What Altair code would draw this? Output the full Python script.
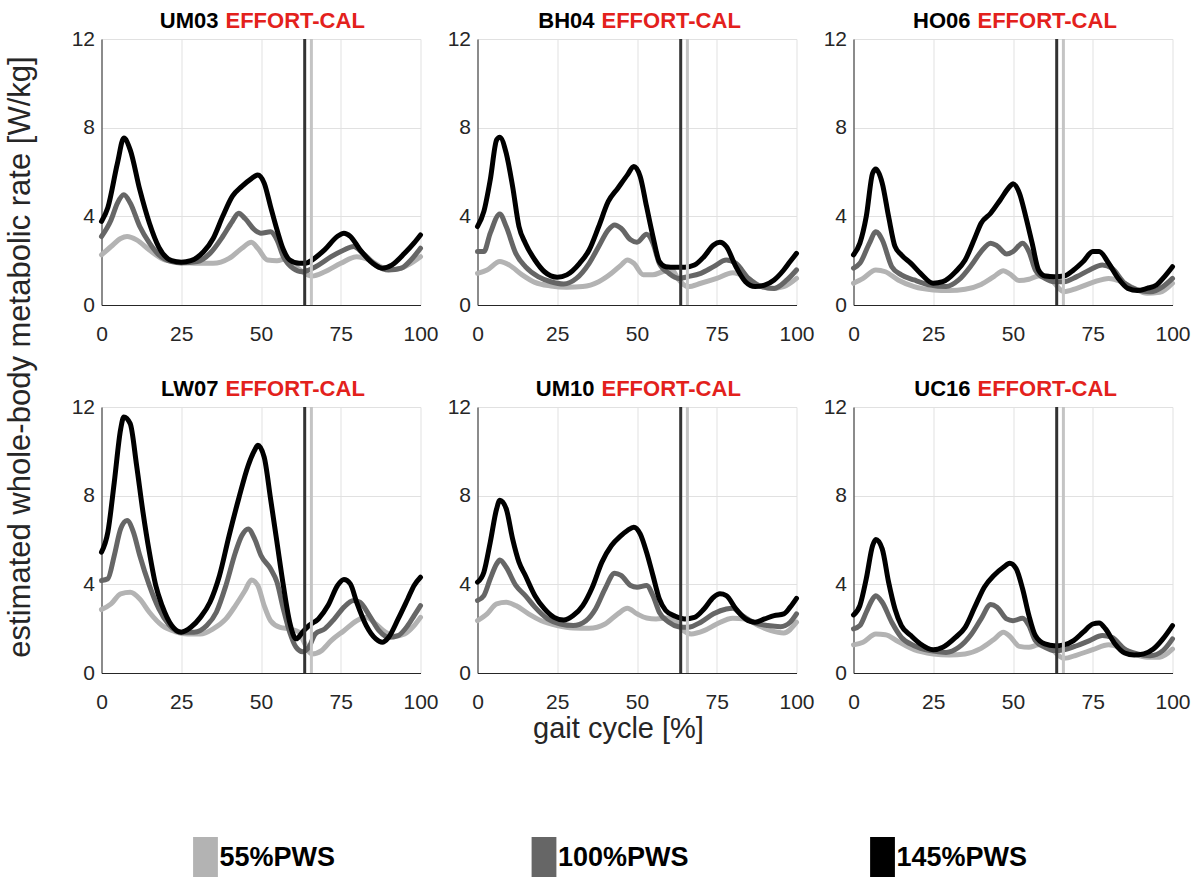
import altair as alt
import pandas as pd

SUBJECTS = ["UM03", "BH04", "HO06", "LW07", "UM10", "UC16"]
SPEEDS = ["55%PWS", "100%PWS", "145%PWS"]
COLORS = ["#b3b3b3", "#666666", "#000000"]
TAG = "EFFORT-CAL"
X_TICKS = [0, 25, 50, 75, 100]
Y_TICKS = [0, 4, 8, 12]
TOE_OFF = [65.8, 63.7]
TOE_OFF_COLORS = ["#c4c4c4", "#333333"]
X_TITLE = "gait cycle [%]"
Y_TITLE = "estimated whole-body metabolic rate [W/kg]"

# ---- UM03 ----
UM03_55_X = [0, 3, 6, 8, 11, 15, 20, 25, 30, 35, 40, 44, 47, 49, 52, 55, 58, 61, 63, 66, 70, 75, 80, 84, 88, 92, 96, 100]
UM03_55_Y = [2.26, 2.64, 3.0, 3.09, 2.94, 2.48, 2.03, 1.93, 1.88, 1.88, 2.1, 2.56, 2.83, 2.56, 2.03, 2.0, 2.1, 1.73, 1.5, 1.31, 1.5, 1.88, 2.18, 2.03, 1.7, 1.6, 1.8, 2.18]
UM03_100_X = [0, 3, 5, 7, 9, 12, 15, 18, 22, 25, 30, 34, 38, 41, 43, 45, 48, 50, 53, 55, 57, 60, 63, 65, 68, 72, 76, 79, 82, 86, 90, 94, 97, 100]
UM03_100_Y = [3.09, 3.84, 4.6, 4.97, 4.6, 3.54, 2.8, 2.26, 1.96, 1.9, 1.96, 2.33, 3.09, 3.77, 4.14, 3.9, 3.39, 3.24, 3.3, 2.94, 2.18, 1.66, 1.5, 1.58, 1.8, 2.18, 2.48, 2.64, 2.33, 1.8, 1.58, 1.66, 2.03, 2.56]
UM03_145_X = [0, 2, 5, 7, 9, 12, 15, 18, 22, 25, 28, 32, 35, 38, 41, 44, 47, 49, 51, 53, 55, 57, 59, 62, 64, 66, 70, 74, 76, 78, 81, 85, 88, 91, 95, 98, 100]
UM03_145_Y = [3.77, 4.4, 6.4, 7.53, 7.0, 5.2, 3.7, 2.6, 2.0, 1.93, 2.0, 2.4, 3.0, 4.0, 4.9, 5.35, 5.7, 5.87, 5.5, 4.44, 3.4, 2.5, 2.03, 1.88, 1.88, 2.03, 2.5, 3.1, 3.24, 3.1, 2.5, 1.88, 1.66, 1.8, 2.33, 2.8, 3.16]

# ---- BH04 ----
BH04_55_X = [0, 3, 7, 10, 14, 18, 23, 28, 33, 38, 42, 45, 47, 49, 52, 55, 58, 61, 63, 66, 70, 75, 80, 84, 88, 92, 96, 100]
BH04_55_Y = [1.43, 1.58, 1.96, 1.8, 1.36, 1.02, 0.86, 0.8, 0.83, 1.05, 1.43, 1.8, 2.03, 1.88, 1.36, 1.36, 1.5, 1.58, 1.16, 0.83, 0.98, 1.2, 1.46, 1.28, 0.9, 0.75, 0.83, 1.2]
BH04_100_X = [0, 2, 4, 7, 9, 12, 15, 19, 23, 27, 31, 35, 38, 41, 43, 45, 48, 50, 53, 55, 57, 60, 63, 66, 70, 74, 78, 81, 85, 89, 93, 97, 100]
BH04_100_Y = [2.41, 2.41, 3.24, 4.1, 3.54, 2.33, 1.73, 1.28, 1.05, 0.95, 1.2, 1.88, 2.64, 3.39, 3.61, 3.46, 2.94, 2.83, 3.19, 2.79, 1.88, 1.43, 1.2, 1.28, 1.43, 1.73, 2.03, 1.88, 1.2, 0.83, 0.75, 1.13, 1.58]
BH04_145_X = [0, 2, 4, 6, 7, 9, 11, 13, 15, 18, 21, 25, 28, 32, 35, 38, 41, 44, 47, 49, 51, 53, 55, 57, 59, 62, 65, 68, 71, 74, 76, 78, 81, 84, 87, 90, 93, 96, 98, 100]
BH04_145_Y = [3.54, 4.22, 5.65, 7.45, 7.57, 6.85, 5.35, 3.54, 2.79, 2.03, 1.5, 1.25, 1.36, 1.88, 2.48, 3.54, 4.67, 5.27, 5.87, 6.25, 5.8, 4.44, 3.09, 1.96, 1.73, 1.7, 1.7, 1.8, 2.18, 2.71, 2.83, 2.64, 1.73, 1.05, 0.83, 0.9, 1.13, 1.58, 1.96, 2.33]

# ---- HO06 ----
HO06_55_X = [0, 3, 7, 10, 14, 19, 25, 30, 35, 40, 44, 47, 49, 52, 55, 58, 61, 63, 66, 70, 75, 80, 84, 88, 92, 96, 100]
HO06_55_Y = [0.98, 1.2, 1.58, 1.5, 1.13, 0.83, 0.68, 0.65, 0.71, 0.93, 1.28, 1.55, 1.4, 1.1, 1.16, 1.31, 1.31, 0.98, 0.6, 0.75, 1.02, 1.2, 1.05, 0.75, 0.53, 0.57, 0.98]
HO06_100_X = [0, 2, 5, 7, 9, 12, 15, 19, 24, 29, 33, 37, 40, 43, 45, 48, 50, 53, 55, 57, 60, 63, 66, 70, 74, 78, 81, 85, 89, 93, 97, 100]
HO06_100_Y = [1.66, 1.88, 2.79, 3.31, 2.94, 1.73, 1.36, 1.13, 0.9, 0.83, 1.13, 1.8, 2.41, 2.79, 2.67, 2.3, 2.41, 2.79, 2.41, 1.58, 1.2, 1.05, 1.05, 1.28, 1.58, 1.8, 1.66, 0.98, 0.68, 0.6, 0.83, 1.2]
HO06_145_X = [0, 2, 4, 6, 7, 9, 11, 13, 15, 18, 21, 25, 28, 32, 35, 38, 40, 43, 46, 49, 50, 52, 54, 56, 58, 60, 63, 66, 69, 72, 75, 77, 80, 83, 86, 89, 92, 95, 97, 100]
HO06_145_Y = [2.26, 2.79, 3.99, 5.95, 6.13, 5.5, 3.99, 2.64, 2.26, 1.88, 1.43, 0.98, 1.05, 1.5, 2.03, 3.01, 3.69, 4.14, 4.74, 5.35, 5.47, 5.05, 3.99, 2.79, 1.58, 1.31, 1.28, 1.31, 1.58, 1.96, 2.41, 2.41, 1.88, 1.2, 0.75, 0.65, 0.75, 0.9, 1.2, 1.73]

# ---- LW07 ----
LW07_55_X = [0, 3, 6, 9, 12, 15, 19, 23, 27, 31, 35, 39, 42, 45, 47, 49, 51, 53, 56, 59, 62, 63, 66, 69, 72, 76, 80, 83, 86, 89, 92, 95, 98, 100]
LW07_55_Y = [2.86, 3.12, 3.57, 3.64, 3.34, 2.74, 2.14, 1.87, 1.76, 1.76, 1.99, 2.44, 3.04, 3.72, 4.2, 3.95, 3.04, 2.36, 2.06, 1.99, 1.84, 1.54, 0.86, 1.01, 1.46, 1.91, 2.36, 2.51, 2.21, 1.84, 1.66, 1.76, 2.14, 2.51]
LW07_100_X = [0, 2, 4, 6, 8, 10, 12, 15, 18, 21, 25, 29, 33, 36, 39, 42, 44, 46, 48, 50, 53, 55, 57, 59, 61, 63, 65, 67, 70, 73, 76, 79, 81, 84, 87, 90, 93, 96, 98, 100]
LW07_100_Y = [4.17, 4.25, 5.3, 6.5, 6.88, 6.36, 5.3, 3.95, 2.89, 2.21, 1.84, 1.84, 2.14, 2.74, 3.95, 5.45, 6.2, 6.5, 6.05, 5.3, 4.7, 4.1, 2.89, 1.84, 1.16, 0.96, 1.16, 1.76, 1.99, 2.44, 2.97, 3.27, 3.19, 2.59, 1.91, 1.61, 1.69, 2.14, 2.59, 3.04]
LW07_145_X = [0, 2, 4, 6, 7, 9, 11, 13, 15, 17, 19, 22, 25, 28, 31, 34, 37, 40, 43, 46, 48, 49, 51, 53, 55, 57, 59, 61, 63, 65, 68, 71, 74, 76, 78, 80, 83, 86, 88, 90, 93, 96, 98, 100]
LW07_145_Y = [5.45, 6.36, 8.6, 11.0, 11.55, 11.25, 9.37, 7.26, 5.45, 3.95, 3.04, 2.14, 1.84, 2.06, 2.51, 3.19, 4.4, 6.2, 7.86, 9.37, 10.05, 10.27, 9.74, 7.86, 5.9, 3.95, 2.29, 1.54, 1.84, 2.14, 2.44, 3.04, 3.95, 4.22, 4.02, 3.19, 2.14, 1.54, 1.39, 1.61, 2.44, 3.34, 3.95, 4.32]

# ---- UM10 ----
UM10_55_X = [0, 3, 6, 9, 12, 16, 20, 25, 30, 35, 40, 44, 47, 50, 53, 56, 59, 62, 64, 67, 71, 75, 80, 84, 88, 92, 96, 100]
UM10_55_Y = [2.36, 2.67, 3.12, 3.19, 3.04, 2.67, 2.36, 2.14, 2.03, 2.02, 2.21, 2.67, 2.92, 2.67, 2.48, 2.44, 2.48, 2.36, 1.99, 1.76, 1.91, 2.21, 2.47, 2.44, 2.14, 1.91, 1.81, 2.29]
UM10_100_X = [0, 2, 4, 6, 7, 9, 12, 15, 18, 22, 26, 30, 34, 37, 40, 43, 45, 48, 50, 53, 55, 57, 60, 63, 66, 70, 74, 78, 80, 83, 87, 91, 95, 98, 100]
UM10_100_Y = [3.27, 3.49, 4.25, 4.92, 5.1, 4.77, 3.95, 3.49, 2.97, 2.44, 2.21, 2.14, 2.36, 2.89, 3.8, 4.5, 4.4, 3.95, 3.87, 3.95, 3.49, 2.74, 2.29, 2.09, 2.06, 2.29, 2.67, 2.89, 2.92, 2.59, 2.26, 2.14, 2.09, 2.29, 2.67]
UM10_145_X = [0, 2, 4, 6, 7, 9, 11, 13, 15, 18, 21, 24, 27, 30, 33, 36, 39, 42, 45, 47, 49, 51, 53, 55, 57, 59, 62, 65, 68, 71, 74, 76, 78, 81, 84, 87, 90, 93, 96, 98, 100]
UM10_145_Y = [4.1, 4.55, 5.9, 7.41, 7.79, 7.41, 6.05, 5.0, 4.4, 3.49, 2.89, 2.51, 2.39, 2.59, 3.04, 3.87, 5.0, 5.75, 6.2, 6.43, 6.58, 6.28, 5.45, 4.4, 3.34, 2.82, 2.56, 2.44, 2.51, 2.89, 3.42, 3.57, 3.49, 2.89, 2.44, 2.29, 2.44, 2.59, 2.67, 2.97, 3.37]

# ---- UC16 ----
UC16_55_X = [0, 3, 7, 10, 14, 19, 25, 30, 35, 40, 44, 47, 49, 52, 55, 58, 61, 63, 66, 70, 75, 80, 84, 88, 92, 96, 100]
UC16_55_Y = [1.27, 1.39, 1.76, 1.73, 1.42, 1.05, 0.86, 0.81, 0.86, 1.11, 1.51, 1.84, 1.66, 1.2, 1.16, 1.27, 1.27, 0.96, 0.66, 0.81, 1.05, 1.27, 1.11, 0.86, 0.71, 0.71, 1.08]
UC16_100_X = [0, 2, 4, 6, 7, 9, 12, 15, 19, 24, 29, 33, 37, 40, 43, 45, 48, 50, 53, 55, 57, 60, 63, 66, 70, 74, 78, 81, 85, 89, 93, 97, 100]
UC16_100_Y = [1.99, 2.14, 2.74, 3.34, 3.49, 3.19, 2.29, 1.61, 1.23, 1.01, 0.93, 1.16, 1.76, 2.44, 3.09, 2.97, 2.44, 2.36, 2.47, 2.14, 1.46, 1.16, 1.01, 1.05, 1.23, 1.46, 1.69, 1.61, 1.08, 0.86, 0.78, 1.01, 1.54]
UC16_145_X = [0, 2, 4, 6, 7, 9, 11, 13, 15, 18, 21, 25, 28, 32, 35, 38, 41, 44, 47, 49, 51, 53, 55, 57, 60, 63, 66, 69, 72, 75, 77, 79, 82, 85, 88, 91, 94, 97, 100]
UC16_145_Y = [2.62, 3.04, 4.25, 5.75, 6.02, 5.6, 4.1, 2.89, 2.14, 1.69, 1.31, 1.05, 1.16, 1.61, 2.06, 2.97, 3.87, 4.4, 4.77, 4.95, 4.7, 3.8, 2.59, 1.69, 1.31, 1.23, 1.27, 1.46, 1.84, 2.21, 2.26, 1.99, 1.31, 0.9, 0.81, 0.86, 1.08, 1.54, 2.14]

SERIES = {
    "UM03": [(UM03_55_X, UM03_55_Y), (UM03_100_X, UM03_100_Y), (UM03_145_X, UM03_145_Y)],
    "BH04": [(BH04_55_X, BH04_55_Y), (BH04_100_X, BH04_100_Y), (BH04_145_X, BH04_145_Y)],
    "HO06": [(HO06_55_X, HO06_55_Y), (HO06_100_X, HO06_100_Y), (HO06_145_X, HO06_145_Y)],
    "LW07": [(LW07_55_X, LW07_55_Y), (LW07_100_X, LW07_100_Y), (LW07_145_X, LW07_145_Y)],
    "UM10": [(UM10_55_X, UM10_55_Y), (UM10_100_X, UM10_100_Y), (UM10_145_X, UM10_145_Y)],
    "UC16": [(UC16_55_X, UC16_55_Y), (UC16_100_X, UC16_100_Y), (UC16_145_X, UC16_145_Y)],
}

rows = []
for subj in SUBJECTS:
    for speed, (xs, ys) in zip(SPEEDS, SERIES[subj]):
        assert len(xs) == len(ys), (subj, speed, len(xs), len(ys))
        for xv, yv in zip(xs, ys):
            rows.append({"subject": subj, "speed": speed, "x": xv, "y": yv})
df = pd.DataFrame(rows)
rule_df = pd.DataFrame({"x": TOE_OFF, "c": TOE_OFF_COLORS})

W, H = 319, 266
FONT = "Liberation Sans"


def panel(subj, show_xtitle):
    if show_xtitle:
        xenc = alt.X("x:Q", title=X_TITLE,
                     scale=alt.Scale(domain=[0, 100], nice=False, zero=False),
                     axis=alt.Axis(values=X_TICKS, titleX=W / 2 - 19, titleAlign="center"))
    else:
        xenc = alt.X("x:Q", title=None,
                     scale=alt.Scale(domain=[0, 100], nice=False, zero=False),
                     axis=alt.Axis(values=X_TICKS))
    yenc = alt.Y("y:Q", title=None,
                 scale=alt.Scale(domain=[0, 12], nice=False),
                 axis=alt.Axis(values=Y_TICKS))
    d = df[df["subject"] == subj]
    layers = []
    for speed, col in zip(SPEEDS, COLORS):
        layers.append(
            alt.Chart(d[d["speed"] == speed])
            .mark_line(color=col, strokeWidth=5, interpolate="monotone", strokeCap="round", strokeJoin="round")
            .encode(x=xenc, y=yenc)
        )
    rules = alt.Chart(rule_df).mark_rule(strokeWidth=3).encode(
        x=xenc, color=alt.Color("c:N", scale=None)
    )
    t1 = alt.Chart(pd.DataFrame({"t": [subj]})).mark_text(
        align="right", baseline="middle", fontSize=22, fontWeight="bold", font=FONT, color="#000000"
    ).encode(text="t:N", x=alt.value(117), y=alt.value(-18))
    t2 = alt.Chart(pd.DataFrame({"t": [TAG]})).mark_text(
        align="left", baseline="middle", fontSize=22, fontWeight="bold", font=FONT, color="#e3211c"
    ).encode(text="t:N", x=alt.value(124), y=alt.value(-18))
    return alt.layer(*layers, rules, t1, t2).properties(width=W, height=H)


row1 = alt.hconcat(*[panel(s, False) for s in SUBJECTS[:3]], spacing=8)
row2 = alt.hconcat(panel(SUBJECTS[3], False), panel(SUBJECTS[4], True), panel(SUBJECTS[5], False), spacing=8)
grid = alt.vconcat(row1, row2, spacing=34)

ytitle = alt.Chart(pd.DataFrame({"t": [Y_TITLE]})).mark_text(
    angle=270, fontSize=31, font=FONT, color="#262626", baseline="middle"
).encode(text="t:N", x=alt.value(0), y=alt.value(318)).properties(width=1, height=640)

top = alt.hconcat(ytitle, grid, spacing=33.5)

leg_df = pd.DataFrame({"label": SPEEDS, "color": COLORS})
leg_base = alt.Chart(leg_df).encode(
    x=alt.X("label:N", sort=SPEEDS, scale=alt.Scale(type="point", padding=0.545), axis=None)
)
leg_rect = leg_base.mark_point(
    shape="M-0.62,-1L0.62,-1L0.62,1L-0.62,1Z", size=1600, filled=True, opacity=1, strokeWidth=0
).encode(color=alt.Color("color:N", scale=None), y=alt.value(20))
leg_text = leg_base.mark_text(
    align="left", baseline="middle", dx=14, fontSize=27, fontWeight="bold", font=FONT, color="#000000"
).encode(text="label:N", y=alt.value(21))
legend = alt.layer(leg_rect, leg_text).properties(width=1046, height=40)

chart = alt.vconcat(top, legend, spacing=94).properties(
    padding={"left": 4, "top": 10, "right": 2, "bottom": 2}
).configure_view(stroke=None).configure_axis(
    labelFont=FONT, labelFontSize=21, labelColor="#262626", labelFlush=False,
    domainColor="#262626", domainWidth=1,
    gridColor="#e1e1e1", gridWidth=1, ticks=False,
    titleFont=FONT, titleFontSize=29, titleFontWeight="normal", titleColor="#262626",
).configure_axisX(labelPadding=18, titlePadding=2).configure_axisY(labelPadding=7)

chart.save("out.html", embed_options={"renderer": "svg", "actions": False})
